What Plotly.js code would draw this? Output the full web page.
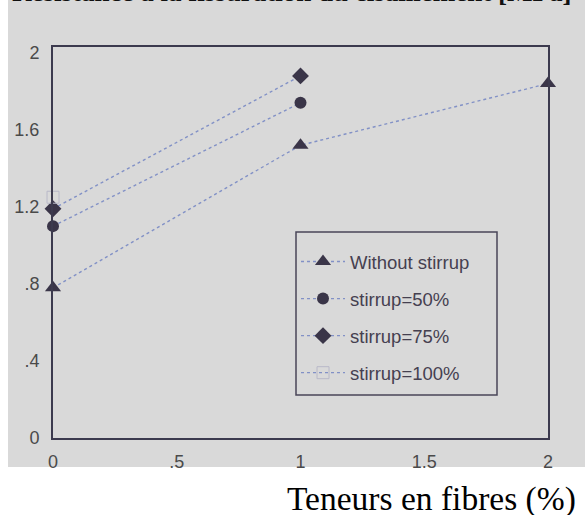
<!DOCTYPE html>
<html>
<head>
<meta charset="utf-8">
<script src="https://cdn.plot.ly/plotly-3.0.1.min.js"></script>
<style>
  html, body { margin: 0; padding: 0; background: #ffffff; }
  #chart { width: 585px; height: 515px; }
</style>
</head>
<body>
<div id="chart"></div>
<script>
// Shear cracking strength vs. fibre content, for several stirrup ratios
const fiberContent   = [0, 1, 2];
const withoutStirrup = [0.78, 1.52, 1.84];
const stirrup50      = [1.10, 1.74];
const stirrup75      = [1.19, 1.88];
const stirrup100     = [1.25];
const seriesNames    = ['Without stirrup', 'stirrup=50%', 'stirrup=75%', 'stirrup=100%'];

const yTickVals = [0, 0.4, 0.8, 1.2, 1.6, 2];
const yTickText = ['0', '.4', '.8', '1.2', '1.6', '2'];
const xTickVals = [0, 0.5, 1, 1.5, 2];
const xTickText = ['0', '.5', '1', '1.5', '2'];

const xTitle = 'Teneurs en fibres (%)';
const yTitle = 'Résistance à la fissuration du cisaillement [MPa]';

// page geometry
const W = 585, H = 515;
const M = { l: 53, r: 37, t: 47, b: 77 };
const plotW = W - M.l - M.r, plotH = H - M.t - M.b;
const px = v => (v - M.l) / plotW;          // pixel column -> paper x
const py = v => (H - M.b - v) / plotH;      // pixel row -> paper y

const markColor = '#3a3548';
const lineStyle = { color: '#8291c6', width: 1.4, dash: 'dot' };

const traces = [
  { x: fiberContent.slice(0, withoutStirrup.length), y: withoutStirrup, name: seriesNames[0],
    marker: { symbol: 'triangle-up', size: 14, color: markColor } },
  { x: fiberContent.slice(0, stirrup50.length), y: stirrup50, name: seriesNames[1],
    marker: { symbol: 'circle', size: 12, color: markColor } },
  { x: fiberContent.slice(0, stirrup75.length), y: stirrup75, name: seriesNames[2],
    marker: { symbol: 'diamond', size: 13, color: markColor } },
  { x: fiberContent.slice(0, stirrup100.length), y: stirrup100, name: seriesNames[3],
    marker: { symbol: 'square-open', size: 12, color: '#b8b8c8', line: { width: 1 } } }
].map((t, i) => Object.assign(t, {
  type: 'scatter', mode: 'lines+markers', line: lineStyle,
  cliponaxis: false, legendgroup: 'g' + i
}));

const tickFont = { family: 'Liberation Sans, Arial, sans-serif', size: 18, color: '#4a4a4a' };
const frameColor = '#3c3a4e';

const layout = {
  width: W, height: H,
  margin: M,
  paper_bgcolor: '#ffffff',
  plot_bgcolor: 'rgba(0,0,0,0)',
  showlegend: true,
  legend: {
    x: px(296), y: py(243), xanchor: 'left', yanchor: 'top',
    bgcolor: 'rgba(0,0,0,0)', borderwidth: 0, itemwidth: 44,
    font: { family: 'Liberation Sans, Arial, sans-serif', size: 18.5, color: '#454050' },
    tracegroupgap: 10
  },
  xaxis: {
    range: [0, 2], tickvals: xTickVals, ticktext: xTickText,
    showgrid: false, zeroline: false, ticks: '',
    showline: true, mirror: true, linecolor: frameColor, linewidth: 2,
    tickfont: tickFont, ticklabelstandoff: 6, fixedrange: true
  },
  yaxis: {
    range: [0, 2.03], tickvals: yTickVals, ticktext: yTickText,
    showgrid: false, zeroline: false, ticks: '',
    showline: true, mirror: true, linecolor: frameColor, linewidth: 2,
    tickfont: tickFont, ticklabelstandoff: 8, fixedrange: true
  },
  shapes: [
    // grey sheet behind the chart
    { type: 'rect', xref: 'paper', yref: 'paper', layer: 'below',
      x0: px(8), x1: px(W), y0: py(467), y1: py(0),
      fillcolor: '#d9d9d9', line: { width: 0 } },
    // legend frame
    { type: 'rect', xref: 'paper', yref: 'paper', layer: 'above',
      x0: px(296), x1: px(497), y0: py(395), y1: py(232),
      fillcolor: 'rgba(0,0,0,0)', line: { color: '#4a4658', width: 1.5 } }
  ],
  annotations: [
    { text: yTitle, xref: 'paper', yref: 'paper', x: px(10), y: py(9),
      xanchor: 'left', yanchor: 'bottom', showarrow: false,
      font: { family: 'Liberation Serif, Times New Roman, serif', size: 27, color: '#111111', weight: 'bold' } },
    { text: xTitle, xref: 'paper', yref: 'paper', x: px(431), y: py(499),
      xanchor: 'center', yanchor: 'middle', showarrow: false,
      font: { family: 'Liberation Serif, Times New Roman, serif', size: 33.5, color: '#000000' } }
  ]
};

Plotly.newPlot('chart', traces, layout, { displayModeBar: false, staticPlot: true });
</script>
</body>
</html>
